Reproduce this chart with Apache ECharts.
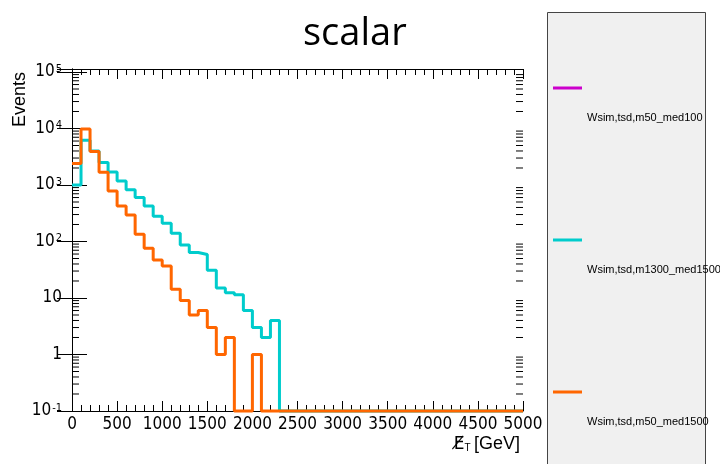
<!DOCTYPE html>
<html>
<head>
<meta charset="utf-8">
<script src="https://cdn.jsdelivr.net/npm/echarts@6/dist/echarts.min.js"></script>
<style>
html, body { margin: 0; padding: 0; background: #fff; }
#main { width: 720px; height: 464px; }
</style>
</head>
<body>
<div id="main"></div>
<script>
// lower bin edges in GeV (bins of 100 GeV), last entry closes the last bin
var binEdges = [0, 100, 200, 300, 400, 500, 600, 700, 800, 900,
  1000, 1100, 1200, 1300, 1400, 1500, 1600, 1700, 1800, 1900,
  2000, 2100, 2200, 2300, 2400, 2500, 2600, 2700, 2800, 2900,
  3000, 3100, 3200, 3300, 3400, 3500, 3600, 3700, 3800, 3900,
  4000, 4100, 4200, 4300, 4400, 4500, 4600, 4700, 4800, 4900, 5000];

// events per bin
var m50med100 = [];
var m1300med1500 = [1000, 6200, 4000, 2500, 1700, 1180, 820, 600, 425, 280,
  210, 140, 87, 64, 59, 31, 15, 12.4, 11.4, 6,
  3, 2, 4, 0, 0, 0, 0, 0, 0, 0,
  0, 0, 0, 0, 0, 0, 0, 0, 0, 0,
  0, 0, 0, 0, 0, 0, 0, 0, 0, 0];
var m50med1500 = [2400, 9800, 3900, 1680, 780, 425, 295, 134, 76, 47,
  37, 14.3, 9, 5, 6, 3, 1, 2, 0, 0,
  1, 0, 0, 0, 0, 0, 0, 0, 0, 0,
  0, 0, 0, 0, 0, 0, 0, 0, 0, 0,
  0, 0, 0, 0, 0, 0, 0, 0, 0, 0];

var seriesNames = ['Wsim,tsd,m50_med100', 'Wsim,tsd,m1300_med1500', 'Wsim,tsd,m50_med1500'];
var seriesColors = ['#cc00cc', '#00cccc', '#ff6600'];

// axis ranges
var xMin = 0, xMax = 5000, xStep = 500;
var yMin = 0.1, yMax = 1.13e5;
// log minor ticks 2..9 x 10^n
var decades = [-1, 0, 1, 2, 3, 4];
var minorSteps = [2, 3, 4, 5, 6, 7, 8, 9];

var labelFont = '"Liberation Sans Narrow", "DejaVu Sans Condensed", "Liberation Sans", sans-serif';

// histogram -> step points, empty bins sit on the frame bottom like ROOT does
function histPoints(counts) {
  var pts = [];
  if (!counts.length) return pts;
  for (var i = 0; i < counts.length; i++) {
    pts.push([binEdges[i], counts[i] > 0 ? counts[i] : yMin]);
  }
  var last = counts[counts.length - 1];
  pts.push([binEdges[counts.length], last > 0 ? last : yMin]);
  return pts;
}

var minorTickData = [];
decades.forEach(function (d) {
  minorSteps.forEach(function (k) {
    minorTickData.push([xMin, k * Math.pow(10, d)]);
  });
});

function yLabel(v) {
  var lg = Math.log(v) / Math.LN10;
  var e = Math.round(lg);
  if (Math.abs(lg - e) > 0.01) return '';
  if (e === 0) return '{p|1}';
  if (e === 1) return '{p|10}';
  return '{b|10}{s|' + e + '}';
}

var chart = echarts.init(document.getElementById('main'), null, { renderer: 'canvas' });

var histData = [m50med100, m1300med1500, m50med1500];
var series = histData.map(function (counts, i) {
  return {
    name: seriesNames[i],
    type: 'line',
    step: 'end',
    data: histPoints(counts),
    showSymbol: false,
    clip: false,
    color: seriesColors[i],
    lineStyle: { color: seriesColors[i], width: 3 },
    z: 3 + i
  };
});

series.push({
  type: 'custom',
  name: 'minorTicks',
  silent: true,
  clip: false,
  data: minorTickData,
  renderItem: function (params, api) {
    var v = api.value(1);
    var l = api.coord([xMin, v]);
    var r = api.coord([xMax, v]);
    return {
      type: 'group',
      children: [
        { type: 'line', shape: { x1: l[0], y1: l[1], x2: l[0] + 7, y2: l[1] }, style: { stroke: '#000', lineWidth: 1 } },
        { type: 'line', shape: { x1: r[0] - 7, y1: r[1], x2: r[0], y2: r[1] }, style: { stroke: '#000', lineWidth: 1 } }
      ]
    };
  },
  z: 2
});

var xAxisBase = {
  type: 'value',
  min: xMin,
  max: xMax,
  interval: xStep,
  axisLine: { show: true, lineStyle: { color: '#000', width: 1 } },
  axisTick: { show: true, inside: true, length: 10, lineStyle: { color: '#000' } },
  minorTick: { show: true, splitNumber: 5, length: 6, lineStyle: { color: '#000' } },
  splitLine: { show: false },
  minorSplitLine: { show: false }
};

var yAxisBase = {
  type: 'log',
  logBase: 10,
  min: yMin,
  max: yMax,
  interval: 1,
  axisLine: { show: true, lineStyle: { color: '#000', width: 1 } },
  axisTick: { show: true, inside: true, length: 15, lineStyle: { color: '#000' } },
  splitLine: { show: false }
};

var option = {
  animation: false,
  backgroundColor: '#fff',
  title: {
    text: 'scalar',
    left: 303,
    top: 15,
    padding: 0,
    textStyle: { fontFamily: '"Open Sans", sans-serif', fontSize: 38, fontWeight: 'normal', color: '#000' }
  },
  graphic: [{
    type: 'rect',
    z: 0,
    shape: { x: 547.5, y: 12.5, width: 158, height: 470 },
    style: { fill: '#f0f0f0', stroke: '#444', lineWidth: 1 }
  }],
  legend: {
    data: seriesNames,
    orient: 'vertical',
    left: 553,
    top: 50.5,
    padding: 0,
    itemGap: 77,
    itemWidth: 29,
    itemHeight: 3,
    icon: 'rect',
    z: 5,
    selectedMode: false,
    // name sits two lines under its line sample, as in the ROOT legend
    formatter: function (name) { return '\n\n\n\n' + name; },
    textStyle: {
      fontFamily: '"Liberation Sans", sans-serif',
      fontSize: 11,
      lineHeight: 15,
      color: '#000'
    }
  },
  grid: {
    left: 72,
    right: 197,
    top: 69,
    bottom: 53,
    containLabel: false,
    outerBoundsMode: 'none'
  },
  xAxis: [
    Object.assign({}, xAxisBase, {
      position: 'bottom',
      name: '{e|E\u0338}{t|T} {g|[GeV]}',
      nameLocation: 'end',
      nameGap: -3,
      nameMoveOverlap: false,
      nameTextStyle: {
        align: 'right',
        verticalAlign: 'top',
        padding: [22, 0, 0, 0],
        color: '#000',
        rich: {
          e: { fontFamily: '"DejaVu Sans", sans-serif', fontSize: 17, color: '#000', verticalAlign: 'bottom', lineHeight: 20 },
          t: { fontFamily: '"Liberation Sans", sans-serif', fontSize: 10, color: '#000', verticalAlign: 'bottom', lineHeight: 14 },
          g: { fontFamily: '"Liberation Sans", sans-serif', fontSize: 18, color: '#000', verticalAlign: 'bottom', lineHeight: 20 }
        }
      },
      axisLabel: {
        show: true, margin: 5, color: '#000', fontFamily: labelFont, fontSize: 17, hideOverlap: false,
        formatter: function (v) { return String(v); }
      }
    }),
    Object.assign({}, xAxisBase, {
      position: 'top',
      axisLabel: { show: false }
    })
  ],
  yAxis: [
    Object.assign({}, yAxisBase, {
      position: 'left',
      name: 'Events',
      nameLocation: 'middle',
      nameRotate: 90,
      nameGap: 43,
      nameMoveOverlap: false,
      nameTextStyle: {
        fontFamily: '"Liberation Sans", sans-serif',
        fontSize: 18,
        color: '#000',
        padding: [0, 0, 0, 281]
      },
      axisLabel: {
        show: true,
        margin: 10,
        color: '#000',
        formatter: yLabel,
        showMaxLabel: false,
        rich: {
          p: { fontFamily: labelFont, fontSize: 17, color: '#000' },
          b: { fontFamily: labelFont, fontSize: 17, lineHeight: 17, color: '#000', verticalAlign: 'bottom' },
          s: { fontFamily: labelFont, fontSize: 11, lineHeight: 11, color: '#000', verticalAlign: 'top', padding: [0, 0, 9, 1] }
        }
      }
    }),
    Object.assign({}, yAxisBase, {
      position: 'right',
      axisLabel: { show: false }
    })
  ],
  series: series
};

chart.setOption(option);
</script>
</body>
</html>
